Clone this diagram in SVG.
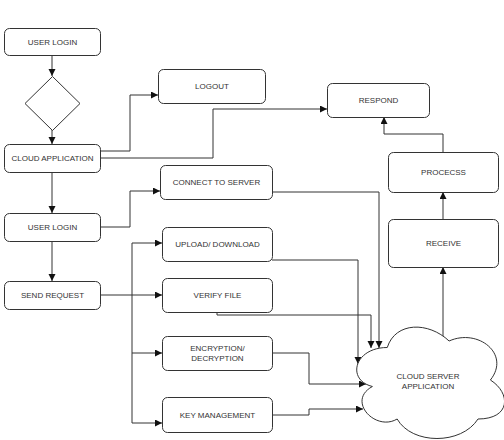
<svg xmlns="http://www.w3.org/2000/svg" width="504" height="440" viewBox="0 0 504 440">
<defs>
<style>
.box{fill:#fff;stroke:#333;stroke-width:1}
.t{font-family:"Liberation Sans",Arial,sans-serif;font-size:8px;fill:#333;text-anchor:middle;dominant-baseline:central}
.c{fill:none;stroke:#333;stroke-width:1}
</style>
<marker id="ah" markerUnits="userSpaceOnUse" markerWidth="8" markerHeight="8" refX="7" refY="3.5" orient="auto">
<path d="M0,0 L7,3.5 L0,7 Z" fill="#111"/>
</marker>
</defs>
<rect width="504" height="440" fill="#fff"/>
<g id="connectors">
<path class="c" d="M52,55 V76" marker-end="url(#ah)"/>
<path class="c" d="M52,130 V144" marker-end="url(#ah)"/>
<path class="c" d="M100,151 H130 V95 H158" marker-end="url(#ah)"/>
<path class="c" d="M100,158 H213 V109 H327" marker-end="url(#ah)"/>
<path class="c" d="M52,172 V213" marker-end="url(#ah)"/>
<path class="c" d="M100,227 H130 V191 H160" marker-end="url(#ah)"/>
<path class="c" d="M52,241 V281" marker-end="url(#ah)"/>
<path class="c" d="M100,295 H162" marker-end="url(#ah)"/>
<path class="c" d="M132,295 V243 H162" marker-end="url(#ah)"/>
<path class="c" d="M132,295 V353 H162" marker-end="url(#ah)"/>
<path class="c" d="M132,353 V423 H162" marker-end="url(#ah)"/>
<path class="c" d="M272,192 H379 V348" marker-end="url(#ah)"/>
<path class="c" d="M272,260 H358 V364" marker-end="url(#ah)"/>
<path class="c" d="M217,312 V315 H371 V348" marker-end="url(#ah)"/>
<path class="c" d="M272,353 H309 V384 H366" marker-end="url(#ah)"/>
<path class="c" d="M272,415 H309 V409 H363" marker-end="url(#ah)"/>
<path class="c" d="M443,336 V267" marker-end="url(#ah)"/>
<path class="c" d="M443,219 V192" marker-end="url(#ah)"/>
<path class="c" d="M443,152 V134 H384 V117" marker-end="url(#ah)"/>
</g>
<g id="user-login-1"><rect class="box" x="4.5" y="28.5" width="96" height="27" rx="5"/><text class="t" x="52.5" y="42">USER LOGIN</text></g>
<g id="decision"><path class="box" d="M52.5,76.5 L80,103.5 L52.5,130.5 L25,103.5 Z"/></g>
<g id="cloud-application"><rect class="box" x="4.5" y="144.5" width="96" height="28" rx="5"/><text class="t" x="52.5" y="158.5">CLOUD APPLICATION</text></g>
<g id="user-login-2"><rect class="box" x="4.5" y="213.5" width="96" height="28" rx="5"/><text class="t" x="52.5" y="227.5">USER LOGIN</text></g>
<g id="send-request"><rect class="box" x="4.5" y="281.5" width="96" height="28" rx="5"/><text class="t" x="52.5" y="295.5">SEND REQUEST</text></g>
<g id="logout"><rect class="box" x="158.5" y="69.5" width="107" height="34" rx="5"/><text class="t" x="212" y="86.5">LOGOUT</text></g>
<g id="connect-to-server"><rect class="box" x="160.5" y="165.5" width="112" height="34" rx="5"/><text class="t" x="216.5" y="182.5">CONNECT TO SERVER</text></g>
<g id="upload-download"><rect class="box" x="162.5" y="227.5" width="110" height="34" rx="5"/><text class="t" x="217.5" y="244.5">UPLOAD/ DOWNLOAD</text></g>
<g id="verify-file"><rect class="box" x="162.5" y="278.5" width="110" height="34" rx="5"/><text class="t" x="217.5" y="295.5">VERIFY FILE</text></g>
<g id="encryption"><rect class="box" x="162.5" y="336.5" width="110" height="34" rx="5"/><text class="t" x="217.5" y="348.5">ENCRYPTION/</text><text class="t" x="217.5" y="358.5">DECRYPTION</text></g>
<g id="key-management"><rect class="box" x="162.5" y="397.5" width="110" height="35" rx="5"/><text class="t" x="217.5" y="415">KEY MANAGEMENT</text></g>
<g id="respond"><rect class="box" x="327.5" y="83.5" width="102" height="34" rx="5"/><text class="t" x="378.5" y="100.5">RESPOND</text></g>
<g id="process"><rect class="box" x="388.5" y="152.5" width="110" height="40" rx="5"/><text class="t" x="443.5" y="172.5">PROCECSS</text></g>
<g id="receive"><rect class="box" x="388.5" y="219.5" width="110" height="48" rx="5"/><text class="t" x="443.5" y="243.5">RECEIVE</text></g>
<g id="cloud-server"><path class="box" d="M387.25,347.5 C354.25,347.5 346,380 372.4,386.5 C346,400.8 375.7,432 397.15,419 C412,445 461.5,445 478,419 C511,419 511,393 490.4,380 C511,354 478,328 449.1,341 C428.5,321.5 395.5,321.5 387.25,347.5 Z"/><text class="t" x="428" y="376">CLOUD SERVER</text><text class="t" x="428" y="386">APPLICATION</text></g>
</svg>
